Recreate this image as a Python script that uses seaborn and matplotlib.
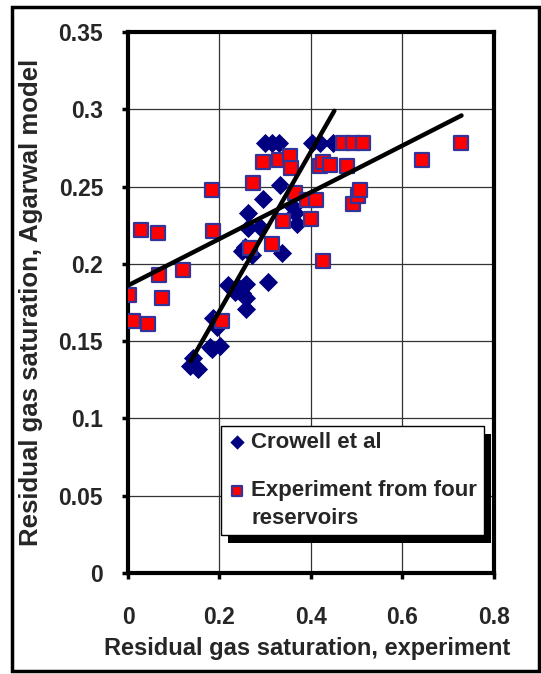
import numpy as np
import pandas as pd
import matplotlib
matplotlib.use("Agg")
import matplotlib.pyplot as plt
from matplotlib.patches import Rectangle
import seaborn as sns

# Data
crowell_x = [0.136, 0.154, 0.143, 0.179, 0.183, 0.201, 0.186, 0.194, 0.219, 0.234,
             0.241, 0.249, 0.259, 0.259, 0.259, 0.307, 0.249, 0.256, 0.270, 0.263,
             0.263, 0.289, 0.296, 0.332, 0.336, 0.361, 0.369, 0.365, 0.299, 0.314,
             0.329, 0.403, 0.420, 0.449]
crowell_y = [0.134, 0.132, 0.139, 0.146, 0.145, 0.147, 0.165, 0.159, 0.186, 0.182,
             0.185, 0.181, 0.187, 0.178, 0.171, 0.188, 0.208, 0.211, 0.206, 0.223,
             0.233, 0.224, 0.242, 0.251, 0.207, 0.237, 0.226, 0.233, 0.278, 0.278,
             0.278, 0.278, 0.278, 0.278]

exp_x = [0.003, 0.012, 0.029, 0.043, 0.065, 0.067, 0.074, 0.121, 0.184, 0.186,
         0.205, 0.267, 0.274, 0.296, 0.314, 0.329, 0.339, 0.354, 0.356, 0.365,
         0.391, 0.399, 0.411, 0.420, 0.426, 0.427, 0.441, 0.471, 0.478, 0.492,
         0.492, 0.503, 0.507, 0.514, 0.642, 0.728]
exp_y = [0.180, 0.163, 0.222, 0.161, 0.220, 0.193, 0.178, 0.196, 0.248, 0.221,
         0.163, 0.210, 0.252, 0.266, 0.213, 0.267, 0.228, 0.270, 0.262, 0.246,
         0.241, 0.229, 0.241, 0.263, 0.202, 0.266, 0.264, 0.278, 0.263, 0.278,
         0.239, 0.244, 0.248, 0.278, 0.267, 0.278]

# trend line end points
trend_crowell_x = [0.137, 0.451]
trend_crowell_y = [0.137, 0.299]
trend_exp_x = [0.0, 0.729]
trend_exp_y = [0.186, 0.296]

x_ticks = [0, 0.2, 0.4, 0.6, 0.8]
x_tick_labels = ["0", "0.2", "0.4", "0.6", "0.8"]
y_ticks = [0, 0.05, 0.1, 0.15, 0.2, 0.25, 0.3, 0.35]
y_tick_labels = ["0", "0.05", "0.1", "0.15", "0.2", "0.25", "0.3", "0.35"]

sns.set_theme(style="white")
plt.rcParams['font.family'] = ['Liberation Sans', 'DejaVu Sans']
plt.rcParams['font.weight'] = 'bold'
plt.rcParams['axes.labelweight'] = 'bold'

fig = plt.figure(figsize=(5.41, 6.74), dpi=100)
ax = fig.add_axes([0.2366, 0.1499, 0.9131 - 0.2366, 0.9525 - 0.1499])

crowell = pd.DataFrame({"x": crowell_x, "y": crowell_y})
exp = pd.DataFrame({"x": exp_x, "y": exp_y})

sns.scatterplot(data=crowell, x="x", y="y", marker="D", s=95, color="#000080",
                linewidth=0, ax=ax, label="Crowell et al", zorder=3)
sns.scatterplot(data=exp, x="x", y="y", marker="s", s=100, color="#FF0000",
                edgecolor="#333399", linewidth=1.6, ax=ax,
                label="Experiment from four\nreservoirs", zorder=4)

sns.lineplot(x=trend_crowell_x, y=trend_crowell_y, color="black", linewidth=3.2,
             ax=ax, zorder=5, legend=False)
sns.lineplot(x=trend_exp_x, y=trend_exp_y, color="black", linewidth=3.2,
             ax=ax, zorder=5, legend=False)

ax.set_xlim(0, 0.8)
ax.set_ylim(0, 0.35)
ax.set_xticks(x_ticks)
ax.set_xticklabels(x_tick_labels)
ax.set_yticks(y_ticks)
ax.set_yticklabels(y_tick_labels)
ax.grid(True, color="#333333", linewidth=0.9)
ax.set_axisbelow(True)

for s in ax.spines.values():
    s.set_color("black")
    s.set_linewidth(3)

ax.tick_params(axis="x", direction="out", length=4, width=2.5, color="black",
               pad=20, labelsize=16.5, bottom=True)
ax.tick_params(axis="y", direction="out", length=4, width=2.5, color="black",
               pad=14, labelsize=16.5, left=True)
for lbl in ax.get_xticklabels() + ax.get_yticklabels():
    lbl.set_fontweight("bold")

ax.set_xlabel("Residual gas saturation, experiment", fontsize=17,
              fontweight="bold")
ax.xaxis.set_label_coords(0.49, -0.118)
ax.set_ylabel("Residual gas saturation, Agarwal model", fontsize=18.5,
              fontweight="bold")
ax.yaxis.set_label_coords(-0.232, 0.5)

leg = ax.legend(loc="upper left", bbox_to_anchor=(0.2533, 0.2723),
                borderaxespad=0, fontsize=16, frameon=True, fancybox=False,
                handlelength=0.86, handletextpad=0.21, borderpad=0.3,
                labelspacing=1.2, markerscale=0.75)
leg.get_frame().set_edgecolor("black")
leg.get_frame().set_linewidth(1)
leg.get_frame().set_facecolor("white")
leg.get_frame().set_alpha(1)
for t in leg.get_texts():
    t.set_fontweight("bold")
    t.set_linespacing(1.42)

fig.canvas.draw()
# put the second legend marker on the first line of its two-line label
h = leg.legend_handles[1]
offs = np.asarray(h.get_offsets(), dtype=float).copy()
offs[:, 1] += 11.5
h.set_offsets(offs)

# legend drop shadow
bb = leg.get_window_extent().transformed(fig.transFigure.inverted())
dx, dy = 7 / 541, 8 / 674
ax.add_patch(Rectangle((bb.x0 + dx, bb.y0 - dy), bb.width, bb.height,
                       transform=fig.transFigure, facecolor="black",
                       edgecolor="none", clip_on=False, zorder=leg.get_zorder() - 0.5))

# outer chart border
fig.patches.append(Rectangle((12 / 541, 1 - 671 / 674), 527 / 541, 664 / 674,
                             transform=fig.transFigure, fill=False,
                             edgecolor="black", linewidth=2.5))

fig.savefig("out.png", dpi=100)
